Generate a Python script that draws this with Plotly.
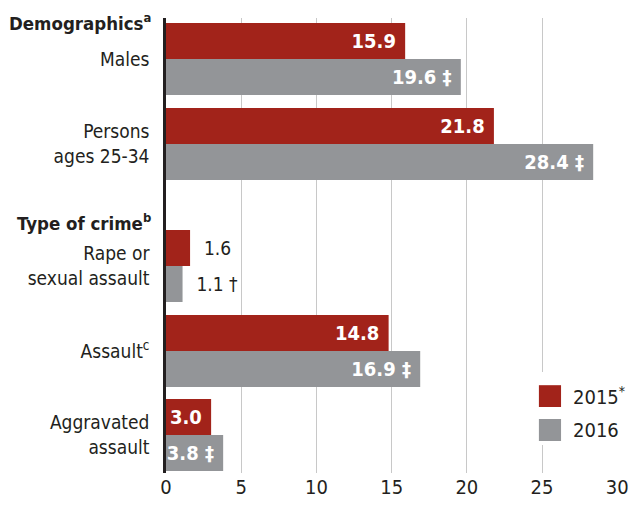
import plotly.graph_objects as go

# ---- data ----
categories = ["Males", "Persons<br>ages 25-34", "Rape or<br>sexual assault", "Assault<sup>c</sup>", "Aggravated<br>assault"]
values_2015 = [15.9, 21.8, 1.6, 14.8, 3.0]
values_2016 = [19.6, 28.4, 1.1, 16.9, 3.8]
marks_2016 = ["‡", "‡", "†", "‡", "‡"]
group_headers = ["Demographics<sup>a</sup>", "Type of crime<sup>b</sup>"]
series_names = ["2015", "2016"]
x_ticks = [0, 5, 10, 15, 20, 25, 30]

# ---- layout constants (pixel-like units from plot top) ----
row_pos = [41, 126, 248, 333, 417]
header_pos = [4, 204]
bar_w = 36
outside_rows = [2]

RED = "#A2231A"
GRAY = "#939598"
TXT = "#231F20"
FONT = "DejaVu Sans Condensed, DejaVu Sans, sans-serif"
NB = "\u00a0"

def labels(vals, marks=None):
    out = []
    for i, v in enumerate(vals):
        s = f"{v:.1f}"
        if marks is not None:
            s += " " + marks[i]
        if i in outside_rows:
            s = NB * 2 + s
        else:
            s = s + NB
        out.append(s)
    return out

def positions(n):
    return ["outside" if i in outside_rows else "inside" for i in range(n)]

def f(size, color=TXT, weight="normal"):
    return dict(family=FONT, size=size, color=color, weight=weight)

fig = go.Figure()
fig.add_trace(go.Bar(
    y=row_pos, x=values_2015, orientation="h", name=series_names[0],
    width=bar_w, offset=-bar_w, marker=dict(color=RED, line=dict(width=0)),
    text=labels(values_2015), textposition=positions(len(values_2015)),
    insidetextanchor="end", constraintext="none", cliponaxis=False,
    insidetextfont=f(20, "white", "bold"),
    outsidetextfont=f(19),
    showlegend=False, hoverinfo="x",
))
fig.add_trace(go.Bar(
    y=row_pos, x=values_2016, orientation="h", name=series_names[1],
    width=bar_w, offset=0, marker=dict(color=GRAY, line=dict(width=0)),
    text=labels(values_2016, marks_2016), textposition=positions(len(values_2016)),
    insidetextanchor="end", constraintext="none", cliponaxis=False,
    insidetextfont=f(20, "white", "bold"),
    outsidetextfont=f(19),
    showlegend=False, hoverinfo="x",
))

annotations = []
for h, y in zip(group_headers, header_pos):
    annotations.append(dict(
        text=h, xref="paper", yref="y", x=0, y=y, xanchor="right", yanchor="middle",
        xshift=-13, showarrow=False, font=f(18.5, TXT, "bold"),
    ))

# manual legend
shapes = [
    dict(type="rect", xref="paper", yref="paper", x0=0.801, x1=1.031, y0=0.0615, y1=0.222,
         fillcolor="white", line=dict(width=0), layer="above"),
    dict(type="rect", xref="paper", yref="paper", x0=0.825, x1=0.874, y0=0.145, y1=0.193,
         fillcolor=RED, line=dict(width=0), layer="above"),
    dict(type="rect", xref="paper", yref="paper", x0=0.825, x1=0.874, y0=0.0703, y1=0.1187,
         fillcolor=GRAY, line=dict(width=0), layer="above"),
]
annotations.append(dict(text=series_names[0] + "<sup>*</sup>", xref="paper", yref="paper",
                        x=0.896, y=0.169, xanchor="left", yanchor="middle", showarrow=False,
                        font=f(20)))
annotations.append(dict(text=series_names[1], xref="paper", yref="paper",
                        x=0.896, y=0.0945, xanchor="left", yanchor="middle", showarrow=False,
                        font=f(20)))

# page body has an 8px margin, so the figure is sized/offset to compensate
fig.update_layout(
    width=629, height=498,
    margin=dict(l=158, r=19, t=10, b=33, autoexpand=False),
    plot_bgcolor="white", paper_bgcolor="white",
    font=f(19),
    xaxis=dict(range=[0, 30.05], tickvals=x_ticks, ticktext=[str(t) for t in x_ticks],
               showgrid=True, gridcolor="#C8C8C8", gridwidth=1, zeroline=False,
               showline=False, ticks="", tickfont=f(20), fixedrange=True, automargin=False),
    yaxis=dict(range=[455, 0], tickvals=row_pos, ticktext=categories,
               showgrid=False, zeroline=False, showline=True, linecolor="#231F20", linewidth=2.5,
               ticks="", ticklabelstandoff=10, tickfont=f(19), fixedrange=True, automargin=False),
    shapes=shapes, annotations=annotations,
)

fig.write_html("out.html")
